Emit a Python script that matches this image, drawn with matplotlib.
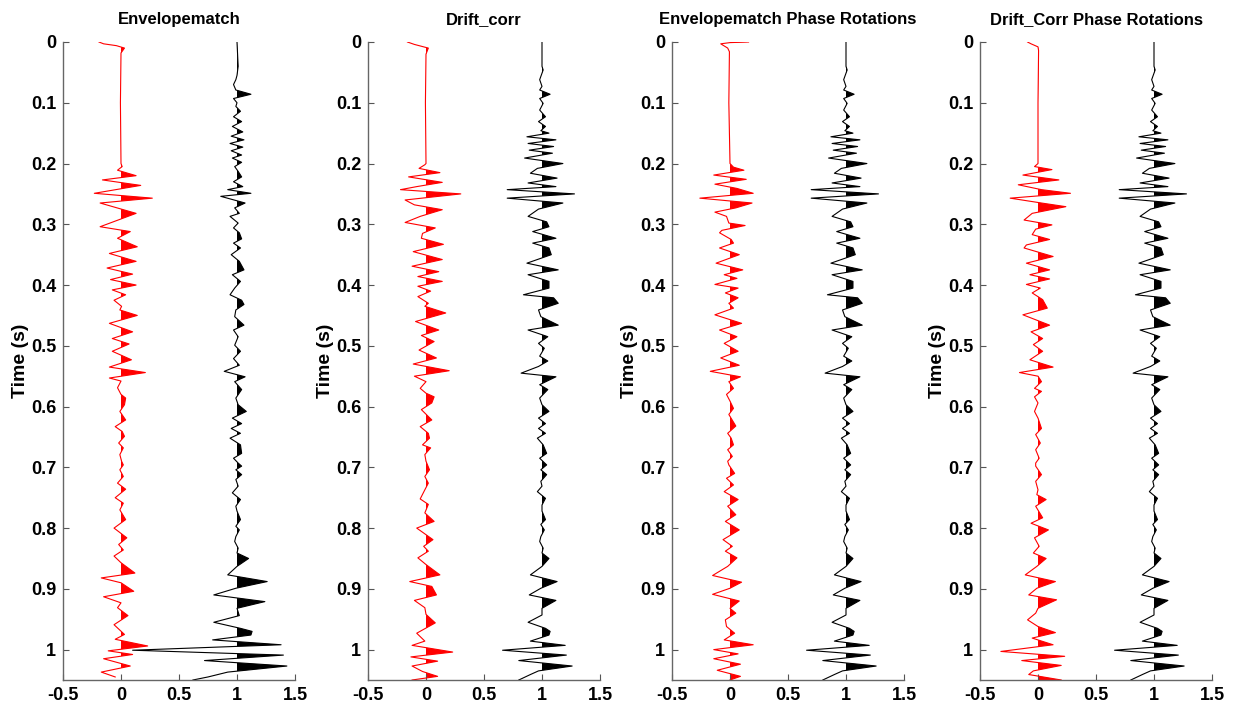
import numpy as np
import matplotlib
matplotlib.use('Agg')
import matplotlib.pyplot as plt

plt.rcParams['font.family'] = ['Liberation Sans', 'DejaVu Sans']
plt.rcParams['font.weight'] = 'bold'

# ---- traces: (time s, amplitude) at each turning point ----
env_red = [(0, -0.19), (0.003, -0.15), (0.006, -0.04), (0.01, 0.03), (0.018, 0.0), (0.1, -0.005), (0.2, 0.0),
           (0.205, 0.01), (0.211, -0.03), (0.22, 0.13), (0.227, -0.16), (0.236, 0.17), (0.249, -0.23), (0.257, 0.27),
           (0.265, -0.18), (0.282, 0.13), (0.304, -0.18), (0.312, 0.08), (0.323, -0.03), (0.337, 0.14), (0.348, -0.10),
           (0.361, 0.13), (0.372, -0.12), (0.382, 0.10), (0.391, -0.09), (0.4, 0.13), (0.408, -0.075), (0.416, 0.04),
           (0.425, -0.06), (0.435, 0.005), (0.441, -0.01), (0.45, 0.14), (0.463, -0.10), (0.477, 0.10), (0.488, -0.075),
           (0.497, 0.07), (0.509, -0.075), (0.523, 0.09), (0.535, -0.10), (0.544, 0.21), (0.553, -0.10), (0.558, 0.0),
           (0.569, -0.03), (0.58, 0.0), (0.586, 0.04), (0.597, 0.03), (0.608, -0.01), (0.622, 0.04), (0.633, -0.05),
           (0.641, 0.01), (0.649, 0.03), (0.66, -0.02), (0.668, 0.02), (0.679, -0.01), (0.69, 0.005), (0.696, 0.02),
           (0.704, -0.01), (0.715, 0.02), (0.726, -0.03), (0.736, 0.04), (0.75, -0.05), (0.759, 0.02), (0.77, -0.01),
           (0.786, 0.04), (0.8, -0.06), (0.816, 0.05), (0.827, -0.02), (0.836, 0.02), (0.846, -0.06), (0.857, 0.0),
           (0.874, 0.12), (0.882, -0.17), (0.89, 0.0), (0.904, 0.11), (0.913, -0.15), (0.923, 0.0), (0.931, -0.03),
           (0.944, 0.06), (0.959, -0.06), (0.975, 0.03), (0.983, -0.05), (0.994, 0.23), (1.002, -0.11), (1.008, 0.10),
           (1.015, -0.15), (1.027, 0.08), (1.037, -0.17), (1.045, -0.05)]

env_blk = [(0, 0), (0.04, 0.01), (0.055, 0), (0.062, -0.01), (0.07, -0.03), (0.079, -0.01), (0.086, 0.12), (0.093, -0.03),
           (0.1, 0.0), (0.106, -0.01), (0.114, 0.03), (0.123, -0.03), (0.131, 0.04), (0.139, -0.04), (0.148, 0.05),
           (0.155, -0.05), (0.161, 0.06), (0.167, -0.06), (0.173, 0.05), (0.179, -0.05), (0.186, 0.04), (0.191, -0.04),
           (0.198, 0.04), (0.205, -0.02), (0.213, 0.01), (0.222, 0.04), (0.23, -0.03), (0.238, 0.05), (0.243, -0.08),
           (0.249, 0.12), (0.254, -0.14), (0.265, 0.07), (0.273, -0.02), (0.282, 0.02), (0.287, -0.06), (0.298, 0.01),
           (0.306, -0.03), (0.314, 0.02), (0.324, 0.04), (0.331, -0.03), (0.339, 0.03), (0.35, -0.05), (0.361, 0.02),
           (0.375, 0.06), (0.383, -0.04), (0.394, 0.03), (0.405, -0.02), (0.416, -0.06), (0.425, 0.04), (0.432, 0.06),
           (0.441, -0.01), (0.452, -0.02), (0.466, 0.06), (0.474, -0.03), (0.485, 0.01), (0.499, -0.02), (0.509, 0.03),
           (0.521, -0.03), (0.532, 0.02), (0.542, -0.11), (0.551, 0.07), (0.559, -0.02), (0.572, 0.04), (0.586, -0.01),
           (0.597, 0.01), (0.608, 0.08), (0.619, -0.04), (0.628, 0.04), (0.636, -0.05), (0.644, 0.03), (0.652, -0.06),
           (0.663, 0.03), (0.677, 0.04), (0.685, -0.03), (0.693, 0.01), (0.698, 0.04), (0.704, -0.01), (0.712, 0.04),
           (0.72, -0.01), (0.731, 0.01), (0.742, -0.04), (0.753, 0.03), (0.764, -0.01), (0.772, 0.0), (0.786, 0.03),
           (0.797, -0.01), (0.803, 0.02), (0.814, -0.01), (0.822, -0.02), (0.833, 0.01), (0.841, 0.0), (0.85, 0.1),
           (0.863, 0.0), (0.877, -0.08), (0.888, 0.26), (0.899, -0.01), (0.91, -0.2), (0.921, 0.24), (0.932, 0.0),
           (0.944, 0.02), (0.955, -0.2), (0.965, 0.03), (0.97, 0.13), (0.976, 0.12), (0.984, -0.21), (0.992, 0.38),
           (1.001, -0.9), (1.009, 0.4), (1.018, -0.28), (1.027, 0.43), (1.037, -0.08), (1.045, -0.25), (1.05, -0.38)]

drift_red = [(0, -0.16), (0.004, -0.1), (0.01, 0.02), (0.02, 0.0), (0.1, -0.005), (0.2, 0.0), (0.202, -0.01),
             (0.208, -0.06), (0.215, 0.12), (0.222, -0.15), (0.231, 0.14), (0.238, -0.08), (0.243, -0.22), (0.25, 0.3),
             (0.26, -0.18), (0.268, -0.1), (0.276, 0.14), (0.287, -0.05), (0.297, -0.18), (0.306, 0.08), (0.315, -0.03),
             (0.323, -0.04), (0.333, 0.15), (0.345, -0.11), (0.358, 0.14), (0.369, -0.12), (0.378, 0.11), (0.386, -0.07),
             (0.394, 0.14), (0.402, -0.07), (0.41, 0.04), (0.419, -0.07), (0.43, 0.02), (0.435, -0.01), (0.446, 0.17),
             (0.46, -0.09), (0.474, 0.11), (0.483, -0.04), (0.493, 0.07), (0.507, -0.06), (0.52, 0.09), (0.53, -0.11),
             (0.541, 0.2), (0.55, -0.1), (0.559, 0.0), (0.57, -0.05), (0.578, 0.0), (0.584, 0.07), (0.594, 0.05),
             (0.605, -0.04), (0.622, 0.05), (0.633, -0.05), (0.644, 0.02), (0.652, 0.03), (0.663, -0.03), (0.668, 0.04),
             (0.679, -0.01), (0.69, 0.0), (0.704, 0.03), (0.715, -0.01), (0.726, 0.02), (0.737, -0.01), (0.752, -0.05),
             (0.761, 0.02), (0.775, -0.01), (0.789, 0.07), (0.8, -0.08), (0.819, 0.06), (0.83, -0.02), (0.838, 0.02),
             (0.849, -0.07), (0.86, 0.0), (0.877, 0.12), (0.888, -0.14), (0.896, 0.05), (0.91, 0.09), (0.919, -0.1),
             (0.931, -0.01), (0.942, 0.0), (0.956, 0.08), (0.973, -0.08), (0.986, -0.01), (0.993, -0.12), (1.004, 0.23),
             (1.012, -0.13), (1.019, 0.1), (1.027, -0.12), (1.036, -0.03), (1.044, 0.1), (1.05, -0.12)]

# black trace is the same in panels 2-4
common_blk = [(0, 0), (0.04, 0.0), (0.046, 0.01), (0.062, -0.02), (0.073, 0.0), (0.079, -0.02), (0.086, 0.07),
              (0.093, -0.02), (0.101, 0.01), (0.112, -0.02), (0.123, 0.03), (0.131, -0.03), (0.139, 0.03),
              (0.146, -0.01), (0.15, 0.06), (0.156, -0.13), (0.161, 0.12), (0.167, -0.12), (0.172, 0.1),
              (0.178, -0.11), (0.183, 0.09), (0.191, -0.15), (0.2, 0.18), (0.208, -0.04), (0.216, -0.1), (0.224, 0.13),
              (0.232, -0.12), (0.238, 0.12), (0.243, -0.3), (0.25, 0.28), (0.257, -0.3), (0.265, 0.18), (0.275, -0.03),
              (0.287, -0.12), (0.296, 0.04), (0.304, 0.06), (0.312, -0.08), (0.323, 0.12), (0.331, -0.08),
              (0.339, 0.06), (0.35, 0.08), (0.364, -0.13), (0.375, 0.14), (0.383, -0.12), (0.394, 0.06), (0.405, 0.06),
              (0.416, -0.16), (0.421, 0.1), (0.43, 0.14), (0.441, -0.03), (0.452, -0.01), (0.466, 0.14),
              (0.474, -0.12), (0.485, 0.05), (0.496, -0.03), (0.504, 0.02), (0.517, -0.02), (0.525, 0.05),
              (0.534, -0.03), (0.545, -0.18), (0.551, 0.12), (0.564, -0.02), (0.572, 0.05), (0.586, -0.02),
              (0.597, 0.0), (0.608, 0.06), (0.619, -0.03), (0.628, 0.03), (0.636, -0.03), (0.644, 0.03), (0.652, -0.04),
              (0.663, 0.01), (0.677, 0.04), (0.685, -0.02), (0.696, 0.04), (0.704, -0.01), (0.712, 0.04),
              (0.723, -0.01), (0.731, 0.0), (0.74, -0.04), (0.751, 0.03), (0.762, 0.0), (0.772, 0.0), (0.786, 0.03),
              (0.794, -0.01), (0.803, 0.02), (0.814, -0.01), (0.822, -0.02), (0.833, 0.01), (0.841, 0.0), (0.85, 0.06),
              (0.863, 0.0), (0.877, -0.1), (0.888, 0.13), (0.899, -0.01), (0.91, -0.11), (0.919, 0.12), (0.932, 0.0),
              (0.943, 0.0), (0.955, -0.12), (0.965, 0.03), (0.97, 0.07), (0.976, 0.06), (0.986, -0.1), (0.993, 0.2),
              (1.001, -0.34), (1.009, 0.21), (1.018, -0.2), (1.027, 0.26), (1.035, -0.03), (1.041, -0.1), (1.05, -0.2)]

envrot_red = [(0, 0.16), (0.001, 0.0), (0.003, -0.08), (0.01, -0.02), (0.016, -0.005), (0.1, -0.01), (0.2, 0.0),
              (0.206, 0.03), (0.211, 0.12), (0.219, -0.14), (0.226, 0.14), (0.234, -0.13), (0.241, 0.06), (0.249, 0.2),
              (0.257, -0.26), (0.265, 0.19), (0.273, 0.05), (0.28, -0.13), (0.287, -0.03), (0.298, -0.01),
              (0.302, 0.13), (0.31, -0.07), (0.314, -0.09), (0.325, 0.01), (0.331, 0.03), (0.339, -0.09), (0.35, 0.08),
              (0.364, -0.12), (0.375, 0.11), (0.383, -0.05), (0.389, 0.06), (0.399, -0.13), (0.405, 0.07),
              (0.413, -0.04), (0.421, 0.07), (0.43, -0.01), (0.438, 0.03), (0.449, -0.13), (0.463, 0.1), (0.474, -0.09),
              (0.485, 0.06), (0.496, -0.05), (0.509, 0.07), (0.52, -0.08), (0.532, 0.08), (0.542, -0.17), (0.551, 0.09),
              (0.559, -0.01), (0.57, 0.03), (0.58, -0.03), (0.591, 0.0), (0.603, 0.03), (0.613, -0.01), (0.632, 0.05),
              (0.644, -0.02), (0.652, 0.01), (0.663, 0.03), (0.671, -0.02), (0.682, 0.02), (0.69, -0.02),
              (0.696, -0.01), (0.71, 0.04), (0.718, -0.03), (0.729, 0.03), (0.74, -0.05), (0.753, 0.07), (0.764, -0.02),
              (0.778, 0.05), (0.789, -0.04), (0.803, 0.08), (0.819, -0.06), (0.83, 0.02), (0.838, -0.04), (0.849, 0.06),
              (0.863, -0.02), (0.878, -0.15), (0.889, 0.1), (0.899, 0.0), (0.909, -0.15), (0.92, 0.08), (0.932, 0.0),
              (0.94, 0.05), (0.951, -0.04), (0.962, -0.03), (0.973, 0.04), (0.984, -0.05), (0.992, 0.2), (1.0, -0.14),
              (1.007, 0.07), (1.015, -0.14), (1.024, 0.09), (1.034, -0.11), (1.044, 0.09), (1.05, 0.0)]

driftrot_red = [(0, -0.09), (0.003, -0.06), (0.008, 0.0), (0.014, 0.005), (0.1, 0.0), (0.2, 0.0), (0.205, -0.03),
                (0.21, 0.12), (0.219, -0.13), (0.227, 0.18), (0.235, -0.17), (0.243, 0.03), (0.249, 0.28),
                (0.257, -0.24), (0.265, 0.03), (0.271, 0.24), (0.282, -0.05), (0.293, -0.12), (0.301, 0.12),
                (0.308, -0.02), (0.317, -0.05), (0.325, 0.1), (0.334, -0.1), (0.339, -0.12), (0.353, 0.13),
                (0.364, -0.1), (0.375, 0.1), (0.383, -0.07), (0.39, 0.1), (0.399, -0.1), (0.405, 0.02), (0.413, -0.05),
                (0.424, 0.04), (0.438, 0.08), (0.449, -0.13), (0.466, 0.1), (0.477, -0.06), (0.488, 0.04),
                (0.498, -0.04), (0.509, 0.04), (0.523, -0.07), (0.535, 0.13), (0.544, -0.16), (0.55, 0.0),
                (0.559, 0.03), (0.57, -0.03), (0.575, 0.03), (0.584, -0.03), (0.594, 0.0), (0.608, -0.03),
                (0.619, 0.0), (0.636, 0.03), (0.646, -0.02), (0.66, 0.02), (0.671, -0.02), (0.685, 0.01),
                (0.693, -0.02), (0.698, -0.02), (0.712, 0.03), (0.723, -0.02), (0.737, 0.0), (0.745, -0.01),
                (0.753, 0.07), (0.764, -0.02), (0.783, 0.04), (0.792, -0.06), (0.803, 0.09), (0.816, -0.03),
                (0.83, 0.01), (0.841, -0.04), (0.85, 0.07), (0.863, -0.01), (0.877, -0.11), (0.888, 0.15),
                (0.899, -0.01), (0.91, -0.08), (0.918, 0.16), (0.932, 0.0), (0.94, -0.02), (0.951, -0.09),
                (0.962, 0.0), (0.972, 0.15), (0.981, -0.05), (0.992, 0.13), (1.003, -0.32), (1.011, 0.23),
                (1.018, -0.14), (1.026, 0.2), (1.035, -0.04), (1.041, -0.08), (1.05, 0.2)]

titles = ['Envelopematch', 'Drift_corr', 'Envelopematch Phase Rotations', 'Drift_Corr Phase Rotations']
red_traces = [env_red, drift_red, envrot_red, driftrot_red]
black_traces = [env_blk, common_blk, common_blk, common_blk]
yticks = [0, 0.1, 0.2, 0.3, 0.4, 0.5, 0.6, 0.7, 0.8, 0.9, 1]
ytick_labels = ['0', '0.1', '0.2', '0.3', '0.4', '0.5', '0.6', '0.7', '0.8', '0.9', '1']
xticks = [-0.5, 0, 0.5, 1, 1.5]
xtick_labels = ['-0.5', '0', '0.5', '1', '1.5']

W, H = 1241, 709
lefts = [63, 368, 672, 980]
ax_w = 232


def wiggle(ax, trace, offset, color):
    tr = np.array(trace, dtype=float)
    t, a = tr[:, 0], tr[:, 1]
    ax.plot(offset + a, t, color=color, lw=0.8)
    ax.fill_betweenx(t, offset, offset + a, where=a > 0, interpolate=True, color=color, lw=0)


fig = plt.figure(figsize=(W / 100, H / 100), dpi=100)
for i in range(4):
    ax = fig.add_axes([lefts[i] / W, 1 - 680 / H, ax_w / W, 638 / H])
    wiggle(ax, red_traces[i], 0, 'red')
    wiggle(ax, black_traces[i], 1, 'black')
    ax.set_xlim(-0.5, 1.5)
    ax.set_ylim(1.05, 0)
    ax.set_xticks(xticks)
    ax.set_xticklabels(xtick_labels, fontsize=13, fontweight='bold')
    ax.set_yticks(yticks)
    ax.set_yticklabels(ytick_labels, fontsize=13, fontweight='bold')
    ax.tick_params(direction='in', length=4, width=0.8, color='#555555', top=False, right=False, pad=5)
    for s in ['top', 'right']:
        ax.spines[s].set_visible(False)
    for s in ['left', 'bottom']:
        ax.spines[s].set_color('#666666')
        ax.spines[s].set_linewidth(1.0)
    ax.set_ylabel('Time (s)', fontsize=14, fontweight='bold', labelpad=1)
    ax.set_title(titles[i], fontsize=12, fontweight='bold', pad=13)

fig.savefig('out.png', dpi=100)
